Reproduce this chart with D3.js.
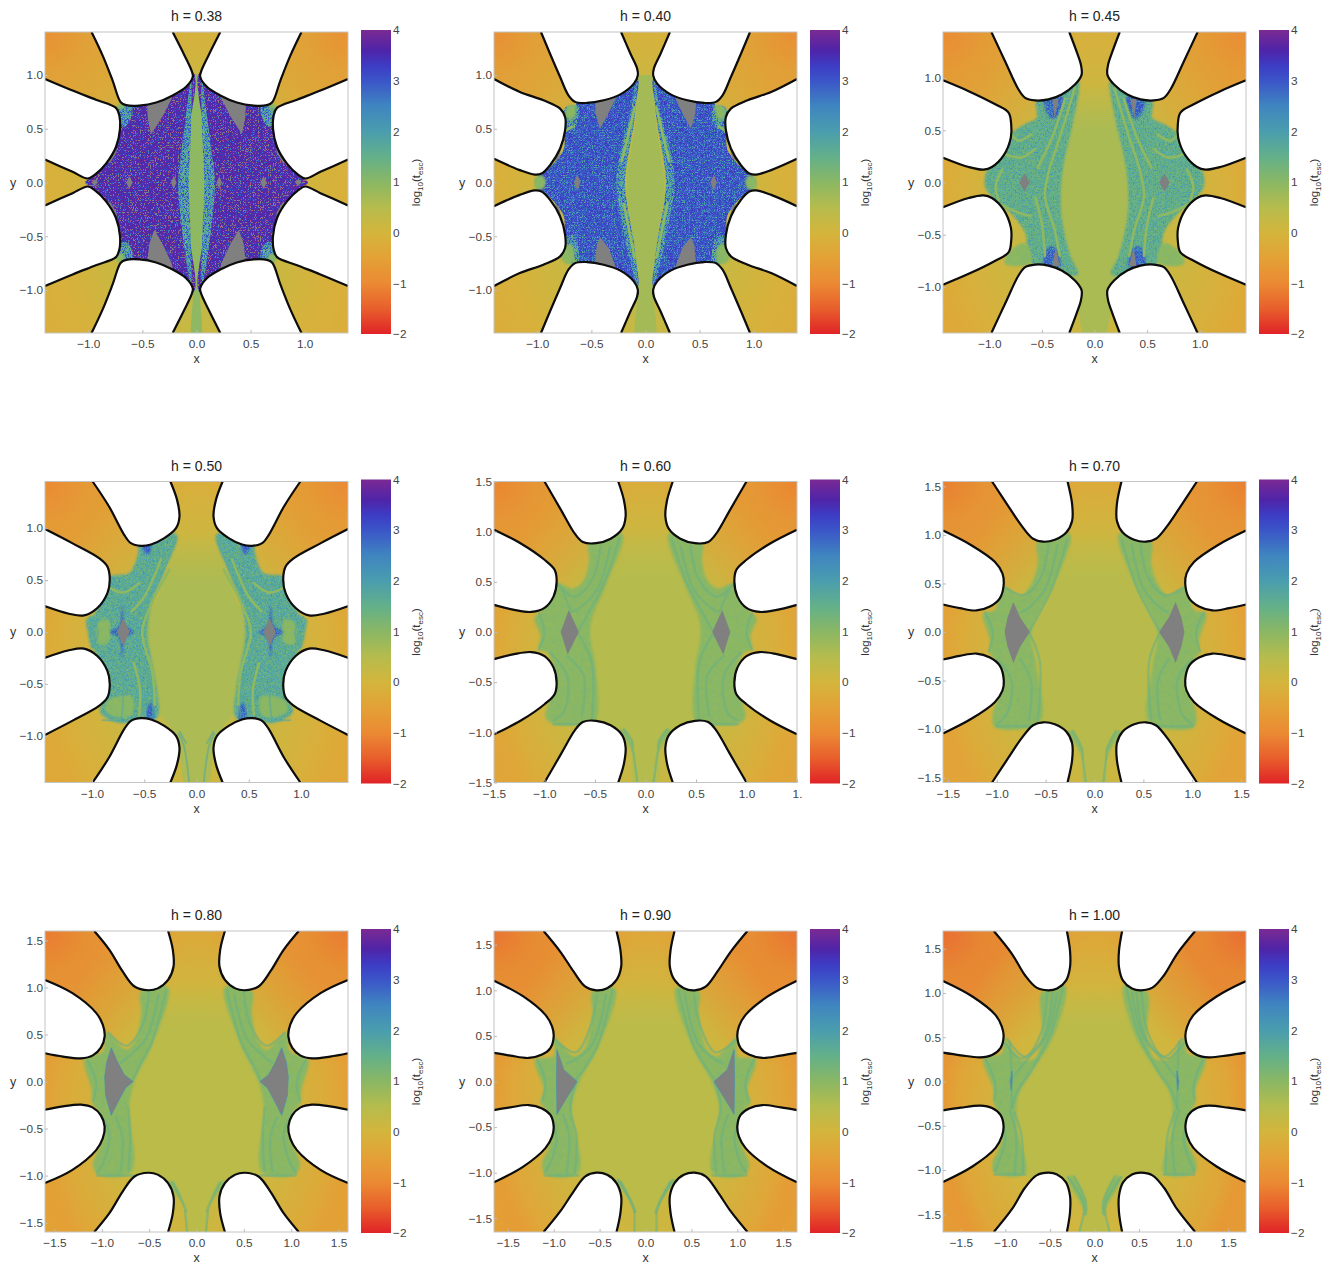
<!DOCTYPE html>
<html><head><meta charset="utf-8">
<style>html,body{margin:0;padding:0;background:#fff}svg{display:block}text{font-family:"Liberation Sans",Arial,sans-serif}</style>
<script src="https://cdn.jsdelivr.net/npm/d3@7"></script>
</head><body><div id="c"></div>
<script>
// ---- colour bar: log10(t_esc) → colour
const barLogs=[4,3.6,3.3,3,2.5,2,1.5,1,0.5,0,-0.5,-1,-1.5,-2];
const barColors=["#7b2a93","#4f24a8","#3d3cc4","#3b55c8","#3f85c0","#4a9dae","#63b08a","#8ab764","#b5bc4d","#d4b53c","#e3a136","#eb8a33","#e85f2c","#e02327"];
const barTicks=[-2,-1,0,1,2,3,4];
// ---- speckle palettes (log values, position = noise level; null = gray, string = blended dot)
const dot="#a85a80";
const palPurple=[dot,dot,dot,dot,dot,3.05,3.7,3.5,3.75,3.4,null,2.6,dot,dot,dot,dot];
const palBlue=[1.5,1.5,1.5,1.5,1.9,2.6,3.0,3.15,2.9,3.35,2.5,2.0,1.5,1.5,1.5,1.5];
const palTeal=[1.1,1.1,1.1,1.1,1.2,1.35,1.6,1.8,1.5,1.95,1.35,2.2,1.1,1.1,1.1,1.1];
const palMix=[1,1,1,1,1.2,1.7,2.1,2.6,1.5,3.0,1.9,3.3,1,1,1,1];
const palGreen=[.8,.8,.8,.8,.85,.9,.98,1.02,.94,1.06,1.12,1.18,1.2,1.2,1.2,1.2];
const palDeep=[1.9,1.9,1.9,1.9,2,2.4,2.8,3.0,2.7,3.1,2.4,2.2,2,2,2,2];
// ---- h = 0.38
const top38=[[.22,1.4],[.11,1.18],[.043,1.034],[.034,.985],[.096,.89],[.22,.81],[.373,.744],[.528,.716],[.65,.72],[.70,.747],[.775,.948],[.867,1.18],[.97,1.4]];
const side38=[[1.4,.963],[1.145,.855],[.93,.77],[.744,.694],[.713,.623],[.707,.5],[.744,.33],[.836,.176],[.944,.068],[1.006,.037],[1.145,.099],[1.4,.213]];
const core38=[[.03,1],[.04,.7],[.06,.3],[.068,0],[.06,-.32],[.04,-.78],[.03,-1],[.035,-1.5]];
const purple38=[[[.03,1.02],[.3,.85],[.55,.76],[.66,.72],[.7,.66],[.71,.5],[.74,.33],[.84,.17],[.95,.06],[1.03,0],[.95,-.06],[.84,-.17],[.74,-.33],[.71,-.5],[.7,-.66],[.66,-.72],[.55,-.76],[.3,-.85],[.03,-1.02],[.08,-.4],[.1,0],[.08,.4]]];
const mix38=[[[.05,.95],[.1,.6],[.15,.2],[.17,0],[.15,-.3],[.1,-.7],[.05,-.97],[.05,-.6],[.07,0],[.05,.5]],[[.6,.72],[.68,.73],[.73,.69],[.72,.55],[.66,.52],[.6,.62]],[[.6,-.72],[.68,-.73],[.73,-.69],[.72,-.58],[.66,-.55],[.6,-.62]]];
const green38=[[[.66,.7],[.72,.68],[.74,.71],[.69,.74]],[[.66,-.68],[.72,-.66],[.74,-.72],[.7,-.75]]];
const gray38=[[[.2,.87],[.46,.78],[.45,.6],[.42,.45],[.31,.62],[.23,.78]],[[.2,-.87],[.46,-.78],[.435,-.565],[.39,-.44],[.31,-.58],[.23,-.75]],[[.21,.06],[.235,0],[.21,-.06],[.185,0]],[[.62,.06],[.65,0],[.62,-.06],[.59,0]],[[.94,.03],[.97,0],[.94,-.03],[.91,0]],[[.74,.35],[.84,.2],[.8,.18],[.74,.28]],[[.74,-.35],[.84,-.2],[.8,-.18],[.74,-.28]]];
// ---- h = 0.40
const top40=[[.226,1.4],[.139,1.198],[.077,1.059],[.071,.997],[.108,.92],[.232,.82],[.387,.765],[.542,.74],[.65,.75],[.712,.811],[.789,.981],[.882,1.198],[.966,1.4]];
const side40=[[1.4,.963],[1.161,.842],[.944,.765],[.789,.687],[.743,.61],[.743,.486],[.789,.316],[.882,.161],[.96,.084],[1.022,.074],[1.161,.115],[1.4,.22]];
const core40=[[.07,.98],[.09,.6],[.14,.25],[.17,0],[.15,-.25],[.09,-.65],[.07,-1],[.08,-1.5]];
const blue40=[[[.08,.98],[.35,.85],[.62,.78],[.66,.62],[.74,.5],[.76,.3],[.95,.08],[1,.05],[1.02,0],[1,-.05],[.95,-.08],[.76,-.3],[.74,-.5],[.66,-.62],[.62,-.78],[.35,-.85],[.08,-.98],[.12,-.6],[.19,-.25],[.21,0],[.19,.25],[.12,.6]]];
const mix40=[[[.08,.95],[.15,.6],[.24,.25],[.27,0],[.23,-.3],[.15,-.7],[.07,-.97],[.1,-.6],[.17,-.2],[.19,0],[.16,.25],[.1,.6]],[[.62,.7],[.74,.7],[.74,.5],[.66,.5]],[[.62,-.74],[.72,-.74],[.74,-.5],[.66,-.5]]];
const green40=[[[.64,.72],[.72,.71],[.74,.62],[.68,.58]],[[.68,-.58],[.74,-.58],[.78,-.7],[.72,-.76],[.66,-.74]],[[.95,.06],[1.02,.05],[1.02,-.06],[.95,-.06],[.92,0]]];
const gaps40=[[[.1,.7],[.17,.4],[.22,.2]],[[.1,-.7],[.16,-.4],[.2,-.2]],[[.68,.52],[.74,.48]]];
const gray40=[[[.27,.8],[.47,.78],[.46,.64],[.42,.5],[.36,.61],[.3,.73]],[[.27,-.8],[.47,-.78],[.45,-.58],[.42,-.51],[.34,-.61]],[[.63,.075],[.66,0],[.63,-.075],[.6,0]],[[.78,.32],[.84,.2],[.8,.22]],[[.78,-.32],[.84,-.2],[.8,-.22]]];
// ---- h = 0.45
const top45=[[.24,1.44],[.17,1.252],[.129,1.126],[.123,1.03],[.186,.937],[.312,.842],[.438,.795],[.565,.785],[.659,.81],[.722,.89],[.849,1.158],[.98,1.44]];
const side45=[[1.44,.978],[1.196,.874],[.943,.748],[.817,.669],[.792,.558],[.795,.432],[.864,.259],[.975,.148],[1.054,.123],[1.196,.148],[1.44,.237]];
const core45=[[.2,1],[.25,.62],[.34,.27],[.42,-.04],[.4,-.325],[.34,-.7],[.2,-.95],[.08,-1.5]];
const teal45=[[[.15,.97],[.21,.55],[.28,.25],[.32,-.05],[.31,-.35],[.23,-.7],[.16,-.88],[.55,-.82],[.63,-.7],[.66,-.48],[.8,-.29],[.94,-.17],[1.04,-.04],[1.02,.12],[.94,.18],[.8,.46],[.66,.56],[.55,.62],[.55,.78],[.22,.94]]];
const green45=[[[.62,-.62],[.68,-.58],[.84,-.7],[.85,-.78],[.7,-.8],[.6,-.76]]];
const deep45=[[[.3,.81],[.48,.81],[.42,.62],[.37,.62]],[[.32,-.8],[.48,-.8],[.44,-.62],[.38,-.62]]];
const strands45=[[[.38,.55],[.43,.3],[.46,0],[.42,-.35],[.38,-.6]],[[.58,.3],[.72,.2],[.9,.17]],[[.62,.06],[.68,.25]],[[.68,-.25],[.69,-.05]]];
const gaps45=[[[.19,.9],[.32,.46],[.44,.085],[.47,-.135],[.38,-.45],[.33,-.7]],[[.28,.8],[.4,.44],[.54,.14]],[[.6,.46],[.72,.4],[.79,.46]],[[.565,.32],[.69,.24],[.85,.27]],[[.88,.12],[.94,-.04],[.91,-.17]],[[.61,-.32],[.72,-.29],[.91,-.2]],[[.56,-.15],[.5,-.4],[.47,-.7]]];
const gray45=[[[.34,.8],[.4,.8],[.38,.62]],[[.33,-.8],[.4,-.8],[.37,-.62]],[[.665,.085],[.715,0],[.665,-.085],[.615,0]]];
// ---- h = 0.50
const top50=[[.25,1.45],[.186,1.273],[.163,1.113],[.196,1],[.308,.904],[.436,.843],[.532,.83],[.628,.856],[.692,.936],[.837,1.209],[.994,1.45]];
const side50=[[1.455,.994],[1.19,.856],[.933,.712],[.853,.631],[.83,.503],[.853,.375],[.949,.231],[1.077,.16],[1.221,.176],[1.455,.25]];
const core50=[[.22,1],[.27,.63],[.38,.31],[.52,0],[.46,-.33],[.44,-.65],[.2,-1],[.08,-1.55]];
const teal50=[[[.19,.94],[.3,.6],[.42,.3],[.47,0],[.42,-.33],[.38,-.55],[.38,-.83],[.62,-.85],[.71,-.88],[.92,-.78],[.885,-.65],[.84,-.55],[.965,-.2],[1.01,-.14],[1.045,.02],[1.055,.12],[.98,.17],[.84,.53],[.64,.57],[.56,.76],[.55,.84]]];
const green50=[[[.62,-.62],[.85,-.66],[.87,-.76],[.76,-.82],[.62,-.8]],[[.84,.12],[.93,.1],[.96,0],[.93,-.12],[.84,-.1]]];
const deep50=[[[.43,.84],[.52,.84],[.47,.74]],[[.41,-.85],[.47,-.85],[.46,-.7],[.43,-.68]],[[.6,0],[.68,.06],[.71,.26],[.74,.06],[.83,0],[.74,-.06],[.71,-.26],[.68,-.06]]];
const strands50=[[[.2,.88],[.38,.45],[.55,.2],[.6,.05]],[[.3,.8],[.48,.41],[.65,.3],[.7,.3]],[[.42,.8],[.5,.55],[.68,.44],[.84,.5]],[[.52,.35],[.7,.3],[.8,.35]],[[.58,0],[.5,-.3],[.42,-.6],[.42,-.82]],[[.7,-.25],[.55,-.45],[.5,-.82]],[[.9,-.2],[.72,-.4],[.7,-.6],[.72,-.85]],[[.5,-.87],[.9,-.85]],[[1.02,.15],[.94,0],[1,-.15]],[[.17,-.98],[.12,-1.1],[.07,-1.45]],[[.1,-1.07],[.16,-.96]]];
const gaps50=[[[.26,.6],[.44,.25],[.52,0],[.42,-.4],[.4,-.7]],[[.55,.47],[.7,.38],[.82,.42]],[[.34,.7],[.5,.34],[.62,.2]],[[.6,-.3],[.54,-.55],[.55,-.8]]];
const gray50=[[[.64,0],[.7,.135],[.76,0],[.7,-.135]]];
// ---- h = 0.60
const top60=[[.27,1.5],[.213,1.31],[.197,1.15],[.23,1.03],[.345,.93],[.49,.885],[.62,.897],[.7,.98],[.833,1.21],[1,1.5]];
const side60=[[1.5,1.02],[1.23,.88],[1,.72],[.9,.62],[.88,.5],[.91,.355],[1,.24],[1.13,.2],[1.3,.22],[1.5,.27]];
const core60=[[.25,1.05],[.29,.7],[.4,.4],[.53,.1],[.56,-.05],[.52,-.3],[.51,-.6],[.5,-.9],[.2,-.98],[.14,-1.15],[.11,-1.55]];
const green60=[[[.23,.98],[.38,.485],[.53,.12],[.545,-.04],[.495,-.34],[.495,-.885],[.64,-.92],[.91,-.92],[.99,-.85],[.97,-.735],[.89,-.505],[.97,-.21],[1.056,-.175],[1.04,-.04],[1.1,.14],[1.04,.2],[.89,.485],[.71,.435],[.61,.52],[.56,.715],[.56,.9]],[[.215,-.97],[.13,-1.1],[.12,-1.2],[.17,-1.12],[.26,-.98]]];
const strands60=[[[.26,.93],[.41,.485],[.56,.2],[.66,.02]],[[.35,.85],[.48,.42],[.68,.22],[.73,.2]],[[.445,.85],[.53,.52],[.71,.35],[.875,.485]],[[.66,-.03],[.53,-.31],[.53,-.87]],[[.775,-.24],[.61,-.44],[.63,-.83]],[[.94,-.21],[.775,-.44],[.81,-.8],[.91,-.88]],[[.74,.22],[.825,.42]],[[.51,-.92],[.91,-.92]],[[1.056,.19],[1,-.01],[1.056,-.175]],[[.215,-.97],[.13,-1.1],[.13,-1.18]],[[.12,-1.2],[.08,-1.5]]];
const gray60=[[[.66,0],[.76,.22],[.84,0],[.77,-.225]]];
// ---- h = 0.70
const top70=[[.276,1.55],[.229,1.317],[.229,1.146],[.287,1.027],[.406,.95],[.526,.93],[.628,.96],[.747,1.096],[.884,1.3],[1.048,1.55]];
const side70=[[1.55,1.045],[1.26,.894],[1.02,.723],[.942,.604],[.928,.5],[.969,.347],[1.07,.263],[1.208,.222],[1.379,.246],[1.55,.283]];
const core70=[[.27,1.08],[.43,.5],[.67,0],[.62,-.32],[.6,-.92],[.2,-1.02],[.13,-1.2],[.1,-1.6]];
const green70=[[[.25,1.01],[.41,.5],[.645,0],[.6,-.32],[.56,-.93],[1.02,-.98],[1.04,-.83],[.95,-.59],[.99,-.32],[1.07,-.215],[1.07,-.08],[1.14,.19],[1.02,.23],[.935,.47],[.75,.38],[.645,.5],[.58,.71],[.58,.93]],[[.22,-1.02],[.13,-1.2],[.12,-1.3],[.18,-1.18],[.28,-1.02]]];
const strands70=[[[.28,.95],[.43,.46],[.56,.2],[.66,.02]],[[.38,.9],[.5,.45],[.65,.27],[.75,.2]],[[.47,.9],[.55,.56],[.72,.38],[.9,.45]],[[.66,-.02],[.56,-.3],[.58,-.9]],[[.76,-.28],[.65,-.5],[.67,-.9]],[[1,-.28],[.85,-.5],[.9,-.85],[1,-.95]],[[.58,-.97],[1,-.97]],[[1.12,.2],[1.04,0],[1.08,-.2]],[[.22,-1.02],[.13,-1.2],[.12,-1.3]],[[.12,-1.3],[.09,-1.55]]];
const gray70=[[[.66,0],[.76,.15],[.83,.31],[.89,.15],[.92,0],[.89,-.15],[.83,-.32],[.76,-.15]]];
// ---- h = 0.80
const top80=[[.3,1.6],[.25,1.4],[.243,1.22],[.3,1.08],[.41,.99],[.51,.97],[.655,1.01],[.78,1.17],[.92,1.4],[1.08,1.6]];
const side80=[[1.6,1.08],[1.31,.94],[1.06,.73],[.99,.605],[.97,.48],[1.01,.36],[1.095,.278],[1.22,.246],[1.41,.264],[1.6,.3]];
const core80=[[.34,1.08],[.48,.41],[.675,0],[.73,-.26],[.73,-.98],[.25,-1.12],[.11,-1.35],[.11,-1.65]];
const green80=[[[.3,1],[.46,.41],[.655,0],[.71,-.26],[.69,-.96],[1.02,-1],[1.095,-.89],[.99,-.61],[1,-.36],[1.095,-.24],[1.11,-.08],[1.18,.24],[.99,.32],[.95,.52],[.74,.34],[.64,.45],[.585,.73],[.585,.96]],[[.25,-1.07],[.14,-1.3],[.11,-1.38],[.18,-1.25],[.31,-1.06]]];
const strands80=[[[.32,.97],[.47,.42],[.6,.17],[.68,0]],[[.4,.92],[.53,.46],[.7,.28],[.8,.2]],[[.5,.95],[.57,.6],[.74,.38],[.93,.52]],[[.72,-.28],[.7,-.6],[.72,-.95]],[[.85,-.38],[.78,-.6],[.8,-.95]],[[1.03,-.32],[.92,-.55],[.98,-.85],[1.05,-.97]],[[.68,-1],[1.05,-1]],[[1.15,.22],[1.06,0],[1.09,-.2]],[[.25,-1.07],[.14,-1.3],[.11,-1.38]],[[.12,-1.38],[.1,-1.6]]];
const gray80=[[[.67,0],[.76,.07],[.83,.2],[.9,.36],[.95,.2],[.97,.05],[.96,-.15],[.9,-.36],[.82,-.2],[.75,-.07]]];
// ---- h = 0.90
const top90=[[.316,1.65],[.273,1.44],[.265,1.258],[.316,1.113],[.418,1.022],[.535,1],[.655,1.04],[.782,1.204],[.927,1.422],[1.11,1.65]];
const side90=[[1.65,1.105],[1.327,.93],[1.09,.73],[1.018,.604],[1,.495],[1.036,.367],[1.127,.295],[1.273,.258],[1.473,.284],[1.65,.313]];
const core90=[[.35,1.1],[.53,.385],[.73,.02],[.82,-.27],[.76,-1],[.25,-1.16],[.11,-1.43],[.13,-1.7]];
const green90=[[[.33,1.02],[.51,.385],[.71,.02],[.8,-.27],[.73,-1],[1.07,-1.03],[1.13,-.92],[1.04,-.67],[1.07,-.34],[1.145,-.23],[1.11,-.09],[1.2,.24],[1,.28],[1,.49],[.78,.28],[.67,.35],[.58,.75],[.58,.985]],[[.27,-1.1],[.14,-1.35],[.11,-1.43],[.17,-1.3],[.32,-1.08]]];
const strands90=[[[.36,1],[.52,.4],[.66,.15],[.76,.02]],[[.43,.95],[.57,.42],[.73,.26],[.85,.2]],[[.53,.95],[.6,.6],[.76,.32],[.98,.45]],[[.76,-.02],[.82,-.3],[.75,-.6],[.77,-1]],[[.9,-.36],[.83,-.6],[.86,-1]],[[1.06,-.35],[.97,-.6],[1.03,-.88],[1.1,-1]],[[.73,-1.03],[1.1,-1.03]],[[1.18,.24],[1.09,0],[1.12,-.2]],[[.27,-1.1],[.14,-1.35],[.11,-1.43]],[[.3,-1.08],[.17,-1.3],[.12,-1.43]],[[.12,-1.43],[.12,-1.65]]];
const gray90=[[[.745,0],[.89,.13],[.965,.35],[.97,.02],[.965,-.36],[.87,-.2]]];
// ---- h = 1.00
const top100=[[.31,1.7],[.275,1.48],[.275,1.29],[.32,1.14],[.42,1.05],[.52,1.03],[.65,1.06],[.78,1.2],[.925,1.44],[1.13,1.7]];
const side100=[[1.7,1.135],[1.37,.96],[1.11,.75],[1.04,.62],[1.02,.51],[1.055,.378],[1.15,.3],[1.28,.273],[1.5,.296],[1.7,.326]];
const core100=[[.35,1.15],[.47,.545],[.725,.1],[.875,-.165],[.8,-1.04],[.3,-1.2],[.11,-1.5],[.18,-1.75]];
const green100=[[[.33,1.085],[.445,.545],[.705,.1],[.855,-.165],[.87,-.5],[.78,-1.04],[1.115,-1.04],[1.15,-.95],[1.04,-.65],[1.08,-.35],[1.135,-.24],[1.135,-.09],[1.245,.265],[1.04,.32],[1.02,.49],[.82,.245],[.67,.265],[.59,.545],[.59,1.01]],[[.25,-1.07],[.12,-1.28],[.09,-1.5],[.14,-1.4],[.3,-1.08]]];
const strands100=[[[.36,1.05],[.5,.52],[.7,.14],[.86,-.1],[.93,-.3]],[[.42,1],[.55,.5],[.78,.22],[.95,0]],[[.53,1],[.6,.55],[.78,.28],[.98,.48]],[[.47,1],[.57,.5],[.82,.26],[1,.43]],[[.9,-.35],[.82,-.6],[.8,-1.04]],[[.95,-.33],[.88,-.6],[.9,-1.04]],[[1.08,-.37],[1,-.65],[1.08,-.92],[1.12,-1.02]],[[.78,-1.05],[1.12,-1.05]],[[1.22,.25],[1.12,0],[1.12,-.2]],[[.3,-1.08],[.13,-1.35],[.12,-1.5]],[[.23,-1.07],[.1,-1.35],[.1,-1.5]],[[.12,-1.5],[.17,-1.7]],[[.95,.45],[.93,0],[.93,-.3]]];
const gray100=[[[.925,.12],[.945,0],[.935,-.1],[.925,0]]];
// ---- panel tables (grad: log t_esc from the centre outward, bottom corner, top corner)
const ticksHalf=[-1,-.5,0,.5,1], ticksWide=[-1.5,-1,-.5,0,.5,1,1.5];
const panels=[
{h:"0.38",lim:1.4,xt:ticksHalf,yt:ticksHalf,grad:[.6,.2,-.08,-.12,-.2,-.85],top:top38,side:side38,core:core38,coreLog:.95,solid:true,purple:purple38,mix:mix38,green:green38,gray:gray38},
{h:"0.40",lim:1.4,xt:ticksHalf,yt:ticksHalf,grad:[.6,.2,-.08,-.15,-.22,-.9],top:top40,side:side40,core:core40,coreLog:.7,solid:true,blue:blue40,mix:mix40,green:green40,gaps:gaps40,gray:gray40},
{h:"0.45",lim:1.44,xt:ticksHalf,yt:ticksHalf,grad:[.55,.15,-.12,-.25,-.35,-.95],top:top45,side:side45,core:core45,coreLog:.62,teal:teal45,green:green45,deep:deep45,strands:strands45,gaps:gaps45,gray:gray45},
{h:"0.50",lim:1.45,xt:ticksHalf,yt:ticksHalf,grad:[.55,.15,-.15,-.3,-.36,-1],top:top50,side:side50,core:core50,coreLog:.6,teal:teal50,green:green50,deep:deep50,strands:strands50,gaps:gaps50,gray:gray50},
{h:"0.60",lim:1.5,xt:ticksWide,yt:ticksWide,xLabels:["−1.5","−1.0","−0.5","0.0","0.5","1.0","1."],grad:[.5,.2,-.2,-.38,-.42,-1.05],top:top60,side:side60,core:core60,coreLog:.5,green:green60,strands:strands60,gray:gray60},
{h:"0.70",lim:1.55,xt:ticksWide,yt:ticksWide,grad:[.45,.15,-.25,-.45,-.45,-1.12],top:top70,side:side70,core:core70,coreLog:.45,green:green70,strands:strands70,gray:gray70},
{h:"0.80",lim:1.6,xt:ticksWide,yt:ticksWide,grad:[.45,.1,-.3,-.52,-.48,-1.18],top:top80,side:side80,core:core80,coreLog:.42,green:green80,strands:strands80,gray:gray80,rim:true},
{h:"0.90",lim:1.65,xt:ticksWide,yt:ticksWide,grad:[.42,.1,-.35,-.6,-.52,-1.24],top:top90,side:side90,core:core90,coreLog:.4,green:green90,strands:strands90,gray:gray90,rim:true},
{h:"1.00",lim:1.7,xt:ticksWide,yt:ticksWide,grad:[.4,.05,-.38,-.7,-.58,-1.32],top:top100,side:side100,core:core100,coreLog:.4,green:green100,strands:strands100,gray:gray100,rim:true}
];
const W=1333,H=1266,colX=[45,494,943],rowY=[32,481.5,931],PW=303,PH=301,barGap=13,barW=30;
const color=d3.scaleLinear().domain(barLogs).range(barColors).clamp(true);
const svg=d3.select("#c").append("svg").attr("width",W).attr("height",H).attr("viewBox",[0,0,W,H]);
const defs=svg.append("defs");
const gf=defs.append("filter").attr("id","soft").attr("x",0).attr("y",0).attr("width",1).attr("height",1);
gf.append("feGaussianBlur").attr("stdDeviation",.6);

function speckle(id,logs,freq,seed,blur,edge){
  const f=defs.append("filter").attr("id",id).attr("x","-5%").attr("y","-5%").attr("width","110%").attr("height","110%").attr("color-interpolation-filters","sRGB");
  f.append("feTurbulence").attr("type","fractalNoise").attr("baseFrequency",freq).attr("numOctaves",1).attr("seed",seed).attr("result","n");
  f.append("feColorMatrix").attr("in","n").attr("type","matrix").attr("values","1 0 0 0 0 1 0 0 0 0 1 0 0 0 0 0 0 0 0 1").attr("result","m");
  const cols=logs.map(v=>d3.rgb(v===null?"#808080":(typeof v==="string"?v:color(v))));
  const t=f.append("feComponentTransfer").attr("in","m").attr("result","c");
  [["feFuncR","r"],["feFuncG","g"],["feFuncB","b"]].forEach(([n,k])=>t.append(n).attr("type","discrete").attr("tableValues",cols.map(c=>(c[k]/255).toFixed(3)).join(" ")));
  f.append("feGaussianBlur").attr("in","c").attr("stdDeviation",blur).attr("result","b");
  f.append("feGaussianBlur").attr("in","SourceAlpha").attr("stdDeviation",edge).attr("result","a");
  f.append("feComposite").attr("in","b").attr("in2","a").attr("operator","in");
}
speckle("sp-purple",palPurple,.6,3,.45,.3);
speckle("sp-blue",palBlue,.6,5,.45,.3);
speckle("sp-teal",palTeal,.5,7,.5,.9);
speckle("sp-mix",palMix,.55,9,.45,.6);
speckle("sp-green",palGreen,.4,11,.8,1.3);
speckle("sp-deep",palDeep,.55,13,.5,1.2);
const regionOrder=["purple","blue","teal","mix","green","deep"];

panels.forEach((p,i)=>{
  const x0=colX[i%3],y0=rowY[Math.floor(i/3)];
  const x=d3.scaleLinear().domain([-p.lim,p.lim]).range([0,PW]);
  const y=d3.scaleLinear().domain([-p.lim,p.lim]).range([PH,0]);
  const g=svg.append("g").attr("transform",`translate(${x0},${y0})`);
  const clipId="clip"+i;
  defs.append("clipPath").attr("id",clipId).append("rect").attr("width",PW).attr("height",PH);
  const gr=defs.append("radialGradient").attr("id","bg"+i).attr("cx",.5).attr("cy",.6).attr("r",.58).attr("gradientTransform","translate(.5,.6) scale(1,1.35) translate(-.5,-.6)");
  const dist=[0,.59,.89,1.01,1.16];
  dist.forEach((d,k)=>gr.append("stop").attr("offset",d/1.16).attr("stop-color",color(p.grad[k])));
  const tc=defs.append("radialGradient").attr("id","tc"+i);
  tc.append("stop").attr("offset",0).attr("stop-color",color(p.grad[5])).attr("stop-opacity",1);
  tc.append("stop").attr("offset",.3).attr("stop-color",color(p.grad[5])).attr("stop-opacity",.45);
  tc.append("stop").attr("offset",1).attr("stop-color",color(p.grad[5])).attr("stop-opacity",0);
  const clip=g.append("g").attr("clip-path",`url(#${clipId})`);
  const plot=clip.append("g").attr("filter","url(#soft)");
  plot.append("rect").attr("width",PW).attr("height",PH).attr("fill",`url(#bg${i})`);
  [-p.lim,p.lim].forEach(cx=>plot.append("circle").attr("cx",x(cx)).attr("cy",y(p.lim)).attr("r",PW*.46).attr("fill",`url(#tc${i})`));
  const lineOf=(curve,sx=1,sy=1)=>d3.line().x(d=>x(sx*d[0])).y(d=>y(sy*d[1])).curve(curve);
  const both=fn=>[1,-1].forEach(fn);
  const coreFull=[...p.core,...[...p.core].reverse().map(d=>[-d[0],d[1]])];
  let coreFill=color(p.coreLog);
  if(!p.solid){
    const cg=defs.append("linearGradient").attr("id","core"+i).attr("gradientUnits","userSpaceOnUse").attr("x1",0).attr("x2",0).attr("y1",y(p.core[0][1]-.05)).attr("y2",y(p.core[0][1]-.5));
    cg.append("stop").attr("offset",0).attr("stop-color",coreFill).attr("stop-opacity",0);
    cg.append("stop").attr("offset",1).attr("stop-color",coreFill).attr("stop-opacity",1);
    coreFill=`url(#core${i})`;
  }
  plot.append("path").attr("d",lineOf(d3.curveCatmullRomClosed)(coreFull)).attr("fill",coreFill);
  regionOrder.forEach(name=>{(p[name]||[]).forEach(pts=>both(s=>{
    plot.append("path").attr("d",lineOf(d3.curveCatmullRomClosed,s)(pts)).attr("fill","#000").attr("filter",`url(#sp-${name})`);
  }));});
  const strandLog=p.teal?1.75:1.4;
  (p.strands||[]).forEach(pts=>both(s=>plot.append("path").attr("d",lineOf(d3.curveCatmullRom,s)(pts)).attr("fill","none").attr("stroke",color(strandLog)).attr("stroke-width",p.teal?1.8:2.4).attr("stroke-opacity",.6).attr("stroke-linecap","round")));
  (p.gaps||[]).forEach(pts=>both(s=>plot.append("path").attr("d",lineOf(d3.curveCatmullRom,s)(pts)).attr("fill","none").attr("stroke",color(.95)).attr("stroke-width",2.6).attr("stroke-linecap","round")));
  (p.gray||[]).forEach(pts=>both(s=>plot.append("path").attr("d",lineOf(d3.curveLinearClosed,s)(pts)).attr("fill","#808080").attr("stroke",p.rim?color(2.4):"none").attr("stroke-opacity",.7).attr("stroke-width",p.rim?.8:0)));
  [p.top,p.side].forEach(lobe=>{[[1,1],[1,-1],[-1,1],[-1,-1]].forEach(([sx,sy])=>{
    const l=lineOf(d3.curveCatmullRom,sx,sy)(lobe);
    plot.append("path").attr("d",l+"Z").attr("fill","#fff");
    plot.append("path").attr("d",l).attr("fill","none").attr("stroke","#0a0a0a").attr("stroke-width",2.2);
  });});
  g.append("rect").attr("width",PW).attr("height",PH).attr("fill","none").attr("stroke","#c4c4c4").attr("stroke-width",1);
  const fmt=d3.format(".1f");
  const ax=d3.axisBottom(x).tickValues(p.xt).tickSize(-3).tickPadding(7).tickFormat((d,k)=>p.xLabels?p.xLabels[k]:fmt(d));
  const ay=d3.axisLeft(y).tickValues(p.yt).tickSize(-3).tickPadding(2).tickFormat(fmt);
  [g.append("g").attr("transform",`translate(0,${PH})`).call(ax),g.append("g").call(ay)].forEach(a=>{
    a.select(".domain").remove();
    a.selectAll("line").attr("stroke","#bbb");
    a.selectAll("text").attr("font-size",11.8).attr("fill","#444").attr("font-family",'"Liberation Sans",Arial,sans-serif');
  });
  g.append("text").attr("x",PW/2).attr("y",-11).attr("text-anchor","middle").attr("font-size",14).attr("fill","#222").text("h = "+p.h);
  g.append("text").attr("x",PW/2).attr("y",PH+30).attr("text-anchor","middle").attr("font-size",12.5).attr("fill","#333").text("x");
  g.append("text").attr("x",-32).attr("y",PH/2+4).attr("text-anchor","middle").attr("font-size",12.5).attr("fill","#333").text("y");
  const by=d3.scaleLinear().domain([-2,4]).range([PH+1,-2]);
  const bg=g.append("g").attr("transform",`translate(${PW+barGap},0)`);
  const lg=defs.append("linearGradient").attr("id","bar"+i).attr("x1",0).attr("x2",0).attr("y1",1).attr("y2",0);
  [...barLogs].reverse().forEach(v=>lg.append("stop").attr("offset",(v+2)/6).attr("stop-color",color(v)));
  bg.append("rect").attr("x",0).attr("y",by(4)).attr("width",barW).attr("height",by(-2)-by(4)).attr("fill",`url(#bar${i})`);
  const ac=d3.axisRight(by).tickValues(barTicks).tickSize(0).tickPadding(2).tickFormat(d3.format("d"));
  const ca=bg.append("g").attr("transform",`translate(${barW},0)`).call(ac);
  ca.select(".domain").remove();
  ca.selectAll("text").attr("font-size",11.8).attr("fill","#444").attr("font-family",'"Liberation Sans",Arial,sans-serif');
  const lab=bg.append("text").attr("transform",`translate(${barW+29},${PH/2}) rotate(-90)`).attr("text-anchor","middle").attr("font-size",11.5).attr("fill","#333");
  lab.append("tspan").text("log");
  lab.append("tspan").attr("font-size",8).attr("dy",3).text("10");
  lab.append("tspan").attr("dy",-3).text("(t");
  lab.append("tspan").attr("font-size",8).attr("dy",3).text("esc");
  lab.append("tspan").attr("dy",-3).text(")");
});
</script></body></html>
